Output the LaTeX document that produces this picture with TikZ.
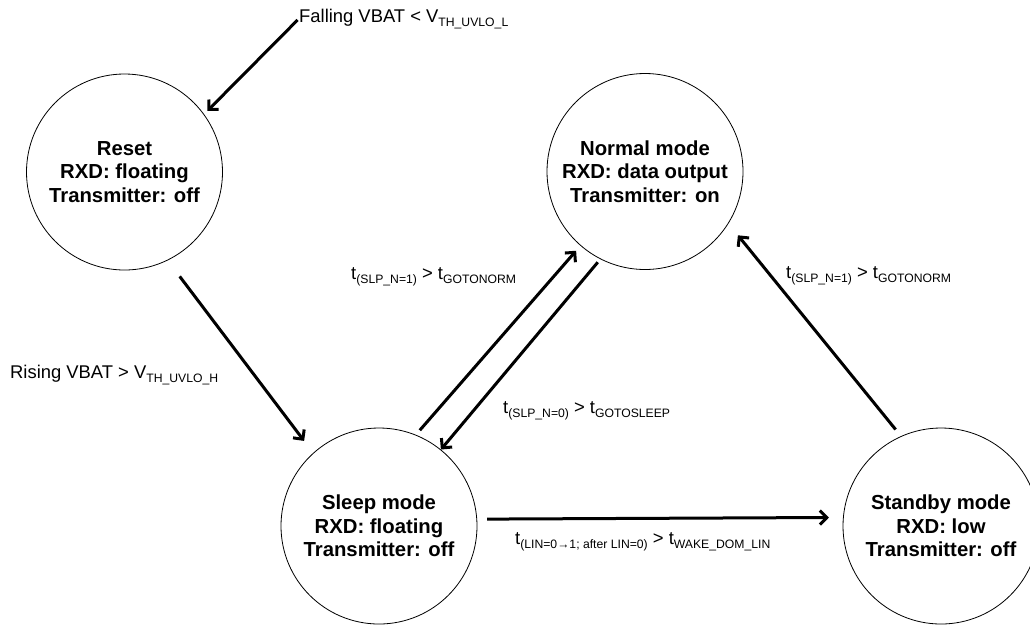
\documentclass[tikz,border=0pt]{standalone}
\usepackage{fontspec}
\setmainfont{Liberation Sans}
\usetikzlibrary{arrows.meta}
\newcommand\lowtext[1]{\raisebox{-4pt}{\fontsize{12.2pt}{14pt}\selectfont #1}}
\begin{document}
\begin{tikzpicture}[x=1pt,y=-1pt,
  state/.style={circle,draw,line width=0.8pt,minimum size=196pt,inner sep=0pt,align=center,
    font=\fontsize{20.3pt}{23.5pt}\selectfont\bfseries},
  lbl/.style={inner sep=0pt,font=\fontsize{18.4pt}{22pt}\selectfont},
  tr/.style={line width=3pt,-{Straight Barb[length=7pt,width=14pt]}}]
\useasboundingbox (0,0) rectangle (1030,625);
\node[state] (reset) at (124.5,172) {Reset\\RXD: floating\\Transmitter: off};
\node[state] (normal) at (645,171.5) {Normal mode\\RXD: data output\\Transmitter: on};
\node[state] (sleep) at (379,526) {Sleep mode\\RXD: floating\\Transmitter: off};
\node[state] (standby) at (941,526) {Standby mode\\RXD: low\\Transmitter: off};

\node[lbl,anchor=base west] (fall) at (299,22) {Falling VBAT < V\lowtext{TH\_UVLO\_L}};
\node[lbl,anchor=base west] (rise) at (10,378) {Rising VBAT > V\lowtext{TH\_UVLO\_H}};
\node[lbl,anchor=base west] (gn1) at (351,279) {t\lowtext{(SLP\_N=1)} > t\lowtext{GOTONORM}};
\node[lbl,anchor=base west] (gs) at (503,413) {t\lowtext{(SLP\_N=0)} > t\lowtext{GOTOSLEEP}};
\node[lbl,anchor=base west] (gn2) at (786,278) {t\lowtext{(SLP\_N=1)} > t\lowtext{GOTONORM}};
\node[lbl,anchor=base west] (wake) at (515,544) {t\lowtext{(LIN=0→1; after LIN=0)} > t\lowtext{WAKE\_DOM\_LIN}};

\draw[tr,shorten <=2pt,shorten >=4.6pt] (fall.west) -- (reset.36.5);
\draw[tr,shorten <=20pt,shorten >=15pt] (reset.-64.7) -- (sleep.132.1);
\draw[tr,shorten <=6pt,shorten >=6.6pt] (sleep.68.6) -- (normal.229.5);
\draw[tr,shorten <=4pt,shorten >=0pt] (normal.243.8) -- (sleep.51.3);
\draw[tr,shorten <=10pt,shorten >=14pt] (sleep.4.2) -- (standby.175.9);
\draw[tr,shorten <=8.5pt,shorten >=15pt] (standby.114.4) -- (normal.-32.9);
\end{tikzpicture}
\end{document}
